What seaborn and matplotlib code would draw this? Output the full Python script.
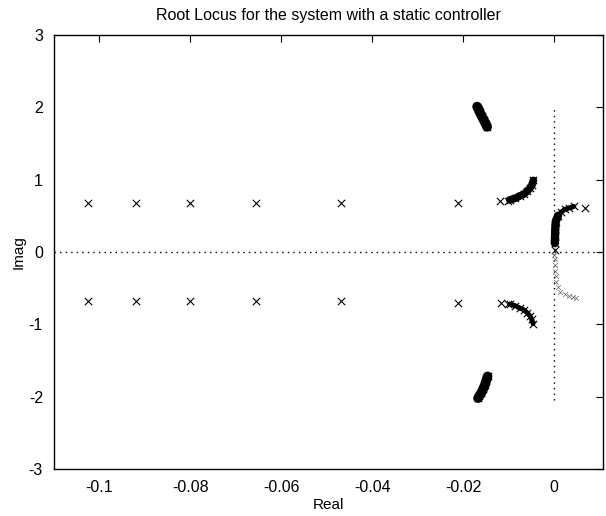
import matplotlib
matplotlib.use("Agg")
import matplotlib.pyplot as plt
import seaborn as sns
import pandas as pd

# ---- data ----
# isolated pole markers (crosses)
pole_re_up = [-0.1026, -0.0919, -0.0800, -0.0655, -0.0468, -0.0212, -0.0118, -0.0102]
pole_im_up = [0.68, 0.68, 0.68, 0.68, 0.68, 0.68, 0.70, 0.71]
pole_re_lo = [-0.1026, -0.0919, -0.0800, -0.0655, -0.0468, -0.0212, -0.0116, -0.0100]
pole_im_lo = [-0.68, -0.68, -0.68, -0.68, -0.68, -0.70, -0.71, -0.72]

# dense branch near (-0.007, +/-0.85)
brA_re_up = [-0.0097, -0.0086, -0.0075, -0.0066, -0.0059, -0.0053, -0.0048, -0.0045]
brA_im_up = [0.72, 0.74, 0.775, 0.80, 0.84, 0.88, 0.93, 0.99]
brA_re_lo = [-0.0097, -0.0086, -0.0075, -0.0066, -0.0059, -0.0053, -0.0049, -0.0046]
brA_im_lo = [-0.72, -0.74, -0.775, -0.80, -0.84, -0.88, -0.93, -0.99]

# dense branch near (-0.016, +/-1.85)
brB_re_up = [-0.0169, -0.0166, -0.0163, -0.0159, -0.0154, -0.0150, -0.0147]
brB_im_up = [2.01, 1.98, 1.93, 1.88, 1.82, 1.77, 1.73]
brB_re_lo = [-0.0146, -0.0149, -0.0152, -0.0156, -0.0160, -0.0164, -0.0167]
brB_im_lo = [-1.72, -1.78, -1.84, -1.90, -1.95, -1.99, -2.02]

# branch near the origin (upper, dense)
brC_re_up = [0.0002, 0.0002, 0.0002, 0.0003, 0.0004, 0.0009, 0.0016, 0.0024, 0.0034, 0.0044]
brC_im_up = [0.03, 0.12, 0.22, 0.32, 0.42, 0.50, 0.55, 0.59, 0.61, 0.63]
brC_pole_re = [0.0068]
brC_pole_im = [0.61]

# branch near the origin (lower, sparse)
brC_re_lo = [0.0001, 0.0002, 0.0002, 0.0003, 0.0004, 0.0005, 0.0008, 0.0014, 0.0024, 0.0034, 0.0042, 0.0048]
brC_im_lo = [-0.04, -0.10, -0.18, -0.26, -0.33, -0.41, -0.48, -0.55, -0.58, -0.61, -0.62, -0.64]

xticks = [-0.1, -0.08, -0.06, -0.04, -0.02, 0]
xtick_labels = ["-0.1", "-0.08", "-0.06", "-0.04", "-0.02", "0"]
yticks = [-3, -2, -1, 0, 1, 2, 3]
ytick_labels = ["-3", "-2", "-1", "0", "1", "2", "3"]

sns.set_style("white")
plt.rcParams['font.family'] = ['Liberation Sans', 'DejaVu Sans']
plt.rcParams['axes.unicode_minus'] = False
plt.rcParams['text.color'] = 'black'
plt.rcParams['axes.labelcolor'] = 'black'

fig = plt.figure(figsize=(6.06, 5.16), dpi=100)
ax = fig.add_axes([54/606, (516-469)/516, (603-54)/606, (469-35)/516])

# axis lines (dotted)
ax.axhline(0, color='black', linestyle=(0, (1, 3)), linewidth=1.0, zorder=1)
ax.plot([0, 0], [-2.05, 2.0], color='black', linestyle=(0, (1, 3)), linewidth=1.0, zorder=1)

def thick(xs, ys, lw):
    df = pd.DataFrame({'re': xs, 'im': ys})
    sns.lineplot(data=df, x='re', y='im', sort=False, color='black', linewidth=lw,
                 solid_capstyle='round', ax=ax, zorder=3)

def crosses(xs, ys, s=28, lw=0.8, color='black'):
    df = pd.DataFrame({'re': xs, 'im': ys})
    sns.scatterplot(data=df, x='re', y='im', marker='x', color=color, s=s,
                    linewidth=lw, ax=ax, zorder=4)

thick(brA_re_up, brA_im_up, 5.5)
crosses(brA_re_up, brA_im_up)
thick(brA_re_lo, brA_im_lo, 3.5)
crosses(brA_re_lo, brA_im_lo)
thick(brB_re_up, brB_im_up, 7.0)
crosses(brB_re_up, brB_im_up)
thick(brB_re_lo, brB_im_lo, 7.0)
crosses(brB_re_lo, brB_im_lo)
thick(brC_re_up[:6], brC_im_up[:6], 6.0)
thick(brC_re_up[4:], brC_im_up[4:], 3.5)
crosses(brC_re_up, brC_im_up)
crosses(brC_re_lo, brC_im_lo, s=12, lw=0.5, color='#666666')

crosses(pole_re_up, pole_im_up)
crosses(pole_re_lo, pole_im_lo)
crosses(brC_pole_re, brC_pole_im)

ax.set_xlim(-0.11, 0.0108)
ax.set_ylim(-3, 3)
ax.set_xticks(xticks)
ax.set_xticklabels(xtick_labels)
ax.set_yticks(yticks)
ax.set_yticklabels(ytick_labels)
ax.tick_params(direction='in', length=5, width=0.8, top=True, right=True,
               labelsize=11.5, colors='black', pad=8)
for sp in ax.spines.values():
    sp.set_visible(True)
    sp.set_color('black')
    sp.set_linewidth(1.0)

ax.set_xlabel("Real", fontsize=11, labelpad=2, color='black')
ax.set_ylabel("Imag", fontsize=11, labelpad=2, color='black')
ax.set_title("Root Locus for the system with a static controller", fontsize=11.5, pad=11,
             color='black')

fig.savefig("out.png", dpi=100, facecolor='white')
